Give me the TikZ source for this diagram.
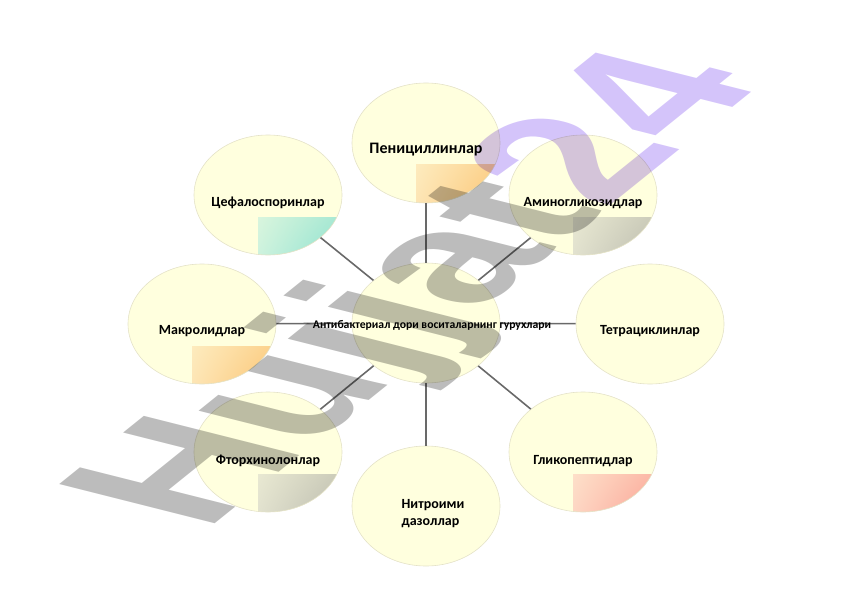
\documentclass[tikz,border=0pt]{standalone}
\usepackage{fontspec}
\setmainfont{Carlito}
\newfontfamily\wmfont{Liberation Sans}
\usetikzlibrary{shapes.geometric,shadings}
\definecolor{paleyellow}{RGB}{255,255,222}
\definecolor{rimcol}{RGB}{228,226,200}
\definecolor{linkgray}{RGB}{105,105,105}
\definecolor{tintorange}{RGB}{250,185,95}
\definecolor{tintcyan}{RGB}{120,220,205}
\definecolor{tintgray}{RGB}{175,175,165}
\definecolor{tintred}{RGB}{250,145,135}
\definecolor{wmgray}{RGB}{188,188,188}
\definecolor{wmpurple}{RGB}{212,196,250}

\begin{document}
\begin{tikzpicture}[x=1pt,y=-1pt,
  drug/.style={ellipse, draw=rimcol, line width=0.6pt, fill=paleyellow, minimum width=148pt, minimum height=120pt, inner sep=0pt},
  tint/.style={path picture={\shade[upper left=paleyellow, lower left=paleyellow!70!white, upper right=#1!25!paleyellow, lower right=#1!85!paleyellow] ([xshift=-10pt,yshift=-22pt]path picture bounding box.center) rectangle (path picture bounding box.south east);}},
  drugtext/.style={font=\bfseries\fontsize{14}{17}\selectfont},
  link/.style={draw=linkgray, line width=1.6pt}]
\useasboundingbox (0,0) rectangle (842,596);

\node[drug] (CEN) at (426,323) {};
\node[drug, tint=tintorange] (PEN) at (426,143) {};
\node[drug, tint=tintcyan] (CEF) at (268,195) {};
\node[drug, tint=tintgray] (AMI) at (583,195) {};
\node[drug, tint=tintorange] (MAK) at (202,324) {};
\node[drug] (TET) at (650,324) {};
\node[drug, tint=tintgray] (FTO) at (268,452) {};
\node[drug, tint=tintred] (GLI) at (583,452) {};
\node[drug] (NIT) at (426,506) {};

\draw[link] (CEN) to (PEN);
\draw[link] (CEN) to (CEF);
\draw[link] (CEN) to (AMI);
\draw[link] (CEN) to (MAK);
\draw[link] (CEN) to (TET);
\draw[link] (CEN) to (FTO);
\draw[link] (CEN) to (GLI);
\draw[link] (CEN) to (NIT);

\node[drugtext, font=\bfseries\fontsize{11.7}{14}\selectfont] (CENtext) at (432,325) {Антибактериал дори воситаларнинг гурухлари};
\node[drugtext, font=\bfseries\fontsize{16}{19}\selectfont] (PENtext) at (426,150) {Пенициллинлар};
\node[drugtext] (CEFtext) at (268,203) {Цефалоспоринлар};
\node[drugtext] (AMItext) at (583,203) {Аминогликозидлар};
\node[drugtext] (MAKtext) at (202,331) {Макролидлар};
\node[drugtext] (TETtext) at (650,331) {Тетрациклинлар};
\node[drugtext] (FTOtext) at (268,461) {Фторхинолонлар};
\node[drugtext] (GLItext) at (583,461) {Гликопептидлар};
\node[drugtext, align=left] (NITtext) at (433,514) {Нитроими\\дазоллар};

% watermark
\begin{scope}[blend mode=multiply]
\node[anchor=base west, inner sep=0pt, cm={0.72,0.58,-1.13,0.285,(0,0)}, text=wmgray, font=\wmfont\bfseries\fontsize{200}{200}\selectfont] (WM) at (205,532) {Hujjat\textcolor{wmpurple}{24}};
\end{scope}
\end{tikzpicture}
\end{document}
